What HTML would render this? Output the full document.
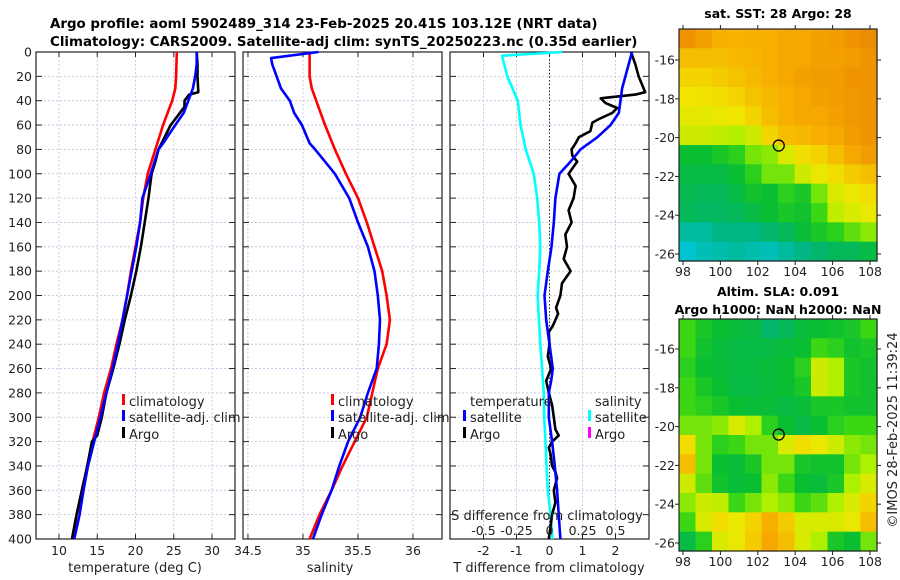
<!DOCTYPE html>
<html><head><meta charset="utf-8">
<style>
html,body{margin:0;padding:0;background:#fff;}
svg{display:block;font-family:"DejaVu Sans","Liberation Sans",sans-serif;}
</style></head>
<body>
<svg id="chart" width="900" height="580" viewBox="0 0 900 580" xmlns="http://www.w3.org/2000/svg">
<text x="50" y="28" font-size="13.4" font-weight="bold">Argo profile: aoml 5902489_314 23-Feb-2025 20.41S 103.12E (NRT data)</text>
<text x="50" y="46" font-size="13.4" font-weight="bold">Climatology: CARS2009. Satellite-adj clim: synTS_20250223.nc (0.35d earlier)</text>
<text x="778" y="18" font-size="12.5" font-weight="bold" text-anchor="middle">sat. SST: 28 Argo: 28</text>
<text x="778" y="296" font-size="12.5" font-weight="bold" text-anchor="middle">Altim. SLA: 0.091</text>
<text x="778" y="314" font-size="12.5" font-weight="bold" text-anchor="middle">Argo h1000: NaN h2000: NaN</text>
<text transform="translate(897,430) rotate(-90)" font-size="13" text-anchor="middle" fill="#222">©IMOS 28-Feb-2025 11:39:24</text>
<g id="layer"></g>
</svg>
<script>
// ---------- data ----------
const depthTicks = [0,20,40,60,80,100,120,140,160,180,200,220,240,260,280,300,320,340,360,380,400];
const tempTicks = [10,15,20,25,30];
const salTicks = [34.5,35,35.5,36];
const tdiffTicks = [-2,-1,0,1,2];
const sdiffTicks = [-0.5,-0.25,0,0.25,0.5];
const sdiffLabels = ["-0.5","-0.25","0","0.25","0.5"];

const climDepth = [0,20,30,40,60,80,100,120,140,160,180,200,220,240,260,280,300,320,340,360,380,400];
const climTemp  = [25.4,25.3,25.2,24.8,23.6,22.6,21.6,21.0,20.6,20.0,19.4,18.9,18.3,17.5,16.8,15.9,15.2,14.4,13.7,13.0,12.3,11.7];
const climSal   = [35.06,35.06,35.08,35.12,35.2,35.29,35.39,35.5,35.58,35.65,35.72,35.76,35.79,35.76,35.68,35.63,35.58,35.47,35.36,35.26,35.15,35.06];

const satDepth = [0,5,10,20,30,40,50,60,75,80,90,100,120,140,160,180,200,220,240,260,280,300,320,340,360,380,400];
const satTemp  = [28.0,28.0,28.0,27.8,27.5,26.9,26.3,25.2,23.6,23.0,22.5,22.0,20.9,20.6,20.1,19.5,18.9,18.3,17.7,17.0,16.2,15.4,14.6,13.8,13.2,12.7,12.0];
const satSal   = [35.14,34.71,34.72,34.76,34.8,34.88,34.92,34.99,35.06,35.11,35.2,35.29,35.42,35.5,35.59,35.65,35.68,35.7,35.69,35.67,35.59,35.52,35.41,35.33,35.26,35.17,35.09];

const argoDepth = [0,10,20,33,35,40,45,55,60,70,80,90,100,110,120,140,160,180,200,220,240,260,280,300,315,320,340,360,380,400];
const argoTemp  = [28.0,28.1,28.1,28.2,27.0,26.4,26.4,25.2,24.6,23.8,23.0,22.6,22.1,21.9,21.7,21.2,20.7,20.1,19.4,18.6,17.9,17.1,16.2,15.6,15.0,14.3,13.7,13.0,12.3,11.7];

const tdiffSatDepth = [0,10,20,30,40,50,60,70,80,90,100,120,140,160,180,200,220,240,260,270,280,300,320,340,360,380,400];
const tdiffSat = [2.5,2.4,2.3,2.2,2.15,2.1,1.85,1.45,0.94,0.64,0.3,0.18,0.13,0.06,-0.05,-0.15,-0.1,0.0,0.1,0.05,-0.02,-0.02,0.08,0.16,0.23,0.28,0.33];

const tdiffArgoDepth = [0,10,20,33,35,38,42,46,50,55,58,65,70,75,80,85,90,100,110,120,130,140,150,160,170,180,190,200,210,215,225,230,240,250,260,270,280,290,300,310,315,320,325,330,340,345,350,360,370,380,390,400];
const tdiffArgo = [2.47,2.6,2.7,2.9,2.6,1.55,1.7,2.05,1.9,1.5,1.3,1.24,0.89,0.79,0.67,0.69,0.84,0.58,0.79,0.73,0.58,0.67,0.48,0.53,0.43,0.64,0.38,0.33,0.2,0.26,0.1,-0.02,0.0,-0.05,0.05,-0.1,-0.02,0.08,0.13,0.18,0.28,0.08,-0.02,0.03,0.08,0.18,0.23,0.13,0.18,0.08,0.03,-0.02];

const sdiffSatDepth = [0,3,20,40,60,80,100,120,140,160,180,200,240,280,300,320,340,360,380,400];
const sdiffSat = [0.096,-0.36,-0.32,-0.24,-0.22,-0.18,-0.12,-0.093,-0.078,-0.07,-0.078,-0.09,-0.07,-0.043,-0.04,-0.03,-0.023,-0.013,0.008,0.023];

const lonTicks = [98,100,102,104,106,108];
const latTicks = [-16,-18,-20,-22,-24,-26];
const argoLon = 103.12, argoLat = -20.41;

const sstGrid = [
[0.95,0.92,0.88,0.87,0.88,0.88,0.9,0.9,0.92,0.93,0.95,0.97],
[0.85,0.85,0.85,0.86,0.87,0.88,0.9,0.9,0.92,0.92,0.93,0.95],
[0.8,0.8,0.82,0.84,0.86,0.88,0.9,0.92,0.93,0.93,0.95,0.95],
[0.76,0.77,0.78,0.8,0.84,0.86,0.88,0.9,0.92,0.93,0.94,0.95],
[0.74,0.74,0.75,0.76,0.8,0.85,0.88,0.9,0.9,0.92,0.94,0.95],
[0.7,0.7,0.68,0.66,0.7,0.8,0.85,0.86,0.88,0.9,0.93,0.95],
[0.4,0.4,0.45,0.5,0.6,0.62,0.72,0.78,0.8,0.85,0.9,0.93],
[0.35,0.35,0.35,0.4,0.5,0.6,0.6,0.7,0.75,0.78,0.82,0.85],
[0.32,0.3,0.3,0.35,0.42,0.4,0.5,0.45,0.6,0.72,0.75,0.78],
[0.3,0.28,0.28,0.3,0.35,0.4,0.45,0.42,0.55,0.68,0.72,0.75],
[0.15,0.15,0.2,0.2,0.2,0.25,0.3,0.38,0.45,0.5,0.58,0.62],
[0.05,0.1,0.12,0.15,0.12,0.1,0.15,0.2,0.25,0.3,0.3,0.35]];

const slaGrid = [
[0.55,0.45,0.4,0.38,0.35,0.25,0.3,0.38,0.4,0.42,0.45,0.55],
[0.55,0.42,0.38,0.35,0.35,0.35,0.38,0.4,0.55,0.5,0.42,0.45],
[0.5,0.4,0.38,0.36,0.36,0.38,0.4,0.5,0.7,0.65,0.45,0.42],
[0.55,0.45,0.4,0.35,0.35,0.38,0.4,0.45,0.7,0.65,0.45,0.42],
[0.55,0.5,0.45,0.4,0.38,0.38,0.36,0.38,0.45,0.45,0.42,0.42],
[0.6,0.6,0.62,0.72,0.65,0.5,0.4,0.35,0.4,0.5,0.55,0.55],
[0.78,0.6,0.5,0.55,0.6,0.6,0.72,0.78,0.75,0.7,0.62,0.6],
[0.85,0.6,0.4,0.38,0.45,0.6,0.6,0.45,0.42,0.42,0.6,0.65],
[0.7,0.58,0.42,0.38,0.4,0.62,0.55,0.4,0.38,0.45,0.65,0.72],
[0.62,0.7,0.68,0.55,0.6,0.65,0.62,0.55,0.58,0.65,0.72,0.8],
[0.55,0.72,0.78,0.75,0.8,0.88,0.82,0.72,0.72,0.72,0.75,0.85],
[0.35,0.5,0.72,0.75,0.82,0.9,0.85,0.72,0.65,0.45,0.4,0.6]];

// ---------- helpers ----------
const NS = "http://www.w3.org/2000/svg";
const layer = document.getElementById('layer');
function mk(tag, attrs, parent){
  const e = document.createElementNS(NS, tag);
  for (const k in attrs) e.setAttribute(k, attrs[k]);
  (parent||layer).appendChild(e);
  return e;
}
const PT = 52, PB = 539;
const yD = d => PT + (d/400)*(PB-PT);
function linScale(d0,d1,r0,r1){ return v => r0 + (v-d0)/(d1-d0)*(r1-r0); }

const panels = [
  {name:'temperature', x0:36, x1:235, sx: linScale(7,33,36,235)},
  {name:'salinity', x0:243, x1:442, sx: linScale(34.455,36.264,243,442)},
  {name:'difference', x0:450, x1:649, sx: linScale(-3.015,3.015,450,649)}
];
const sxS = linScale(-0.75375,0.75375,450,649);

function drawPanelFrame(p, xticks, sx, showLeftLabels){
  const g = mk('g', {});
  
  
  depthTicks.forEach(d => {
    const l = mk('line', {x1:p.x0, x2:p.x1, y1:yD(d), y2:yD(d), stroke:'#b8c0e0', 'stroke-width':0.8, 'stroke-dasharray':'2,2'}, g);
    
    
  });
  xticks.forEach(t => {
    const x = sx(t);
    const l = mk('line', {x1:x, x2:x, y1:PT, y2:PB, stroke:'#c8c0d8', 'stroke-width':0.8, 'stroke-dasharray':'2,2'}, g);
    
    
    mk('line', {x1:x, x2:x, y1:PB, y2:PB-5, stroke:'#222'}, g);
    mk('line', {x1:x, x2:x, y1:PT, y2:PT+5, stroke:'#222'}, g);
  });
  depthTicks.forEach(d => {
    mk('line', {x1:p.x0, x2:p.x0+6, y1:yD(d), y2:yD(d), stroke:'#222'}, g);
    mk('line', {x1:p.x1, x2:p.x1-6, y1:yD(d), y2:yD(d), stroke:'#222'}, g);
    if (showLeftLabels){
      const t = mk('text', {x:p.x0-4, y:yD(d)+4.5, 'font-size':12.5, 'text-anchor':'end', fill:'#222'}, g);
      t.textContent = d;
      
      
    }
  });
  const r = mk('rect', {x:p.x0, y:PT, width:p.x1-p.x0, height:PB-PT, fill:'none', stroke:'#222', 'stroke-width':1.2}, g);
  
  
  return g;
}
function line(depths, vals, sx, color, name, w){
  const pts = depths.map((d,i) => sx(vals[i]).toFixed(1)+','+yD(d).toFixed(1)).join(' ');
  const pl = mk('polyline', {points:pts, fill:'none', stroke:color, 'stroke-width':w||2.6, 'stroke-linejoin':'round'});
  
  
  return pl;
}
function txt(x,y,s,opts,name){
  const t = mk('text', Object.assign({x:x, y:y, 'font-size':13, fill:'#222'}, opts||{}));
  t.textContent = s;
  
  
  return t;
}
function legendEntry(x,y,color,label,name){
  const r = mk('rect', {x:x, y:y-7, width:3, height:11, fill:color});
  
  
  txt(x+7, y+5, label, {'font-size':13}, name);
}

// ---------- panel 1: temperature ----------
const p1 = panels[0];
drawPanelFrame(p1, tempTicks, p1.sx, true);
tempTicks.forEach(t => txt(p1.sx(t), 555, t, {'text-anchor':'middle','font-size':12.5}, 'temperature-tick-label'));
txt(135, 572, 'temperature (deg C)', {'text-anchor':'middle'}, 'temperature-axis-title');
line(climDepth, climTemp, p1.sx, '#ff0000', 'climatology-temperature-line');
line(argoDepth, argoTemp, p1.sx, '#000000', 'argo-temperature-line');
line(satDepth, satTemp, p1.sx, '#0000ff', 'satellite-temperature-line');
legendEntry(122, 401, '#ff0000', 'climatology', 'legend-climatology');
legendEntry(122, 417, '#0000ff', 'satellite-adj. clim', 'legend-satellite-adj');
legendEntry(122, 434, '#000000', 'Argo', 'legend-argo');

// ---------- panel 2: salinity ----------
const p2 = panels[1];
drawPanelFrame(p2, salTicks, p2.sx, false);
salTicks.forEach(t => txt(p2.sx(t), 555, t, {'text-anchor':'middle','font-size':12.5}, 'salinity-tick-label'));
txt(330, 572, 'salinity', {'text-anchor':'middle'}, 'salinity-axis-title');
line(climDepth, climSal, p2.sx, '#ff0000', 'climatology-salinity-line');
line(satDepth, satSal, p2.sx, '#0000ff', 'satellite-salinity-line');
legendEntry(331, 401, '#ff0000', 'climatology', 'legend-climatology-2');
legendEntry(331, 417, '#0000ff', 'satellite-adj. clim', 'legend-satellite-adj-2');
legendEntry(331, 434, '#000000', 'Argo', 'legend-argo-2');

// ---------- panel 3: differences ----------
const p3 = panels[2];
drawPanelFrame(p3, tdiffTicks, p3.sx, false);
const zl = mk('line', {x1:p3.sx(0), x2:p3.sx(0), y1:PT, y2:PB, stroke:'#333', 'stroke-width':1, 'stroke-dasharray':'1.5,2'});


tdiffTicks.forEach(t => txt(p3.sx(t), 555, t, {'text-anchor':'middle','font-size':12.5}, 'tdiff-tick-label'));
txt(549, 572, 'T difference from climatology', {'text-anchor':'middle'}, 'tdiff-axis-title');
line(sdiffSatDepth, sdiffSat, sxS, '#00ffff', 'salinity-satellite-diff-line');
line(tdiffArgoDepth, tdiffArgo, p3.sx, '#000000', 'temperature-argo-diff-line');
line(tdiffSatDepth, tdiffSat, p3.sx, '#0000ff', 'temperature-satellite-diff-line');
txt(547, 520, 'S difference from climatology', {'text-anchor':'middle'}, 'sdiff-axis-title');
sdiffTicks.forEach((t,i) => txt(sxS(t), 535, sdiffLabels[i], {'text-anchor':'middle','font-size':12.5}, 'sdiff-tick-label'));
txt(470, 406, 'temperature', {}, 'legend-temperature-heading');
legendEntry(463, 417, '#0000ff', 'satellite', 'legend-t-satellite');
legendEntry(463, 434, '#000000', 'Argo', 'legend-t-argo');
txt(595, 406, 'salinity', {}, 'legend-salinity-heading');
legendEntry(588, 417, '#00ffff', 'satellite', 'legend-s-satellite');
legendEntry(588, 434, '#ff00ff', 'Argo', 'legend-s-argo');

// ---------- maps ----------
const cmapStops = [[0,[0,200,235]],[0.22,[0,180,120]],[0.4,[10,190,50]],[0.55,[60,215,20]],[0.65,[175,240,0]],[0.76,[240,230,0]],[0.88,[248,176,0]],[1,[232,128,0]]];
function cmap(v){
  v = Math.max(0, Math.min(1, v));
  for (let i=1;i<cmapStops.length;i++){
    if (v <= cmapStops[i][0]){
      const [a,ca] = cmapStops[i-1], [b,cb] = cmapStops[i];
      const f = (v-a)/(b-a);
      return 'rgb(' + ca.map((c,j)=>Math.round(c+(cb[j]-c)*f)).join(',') + ')';
    }
  }
  return 'rgb(232,128,0)';
}
function drawMap(grid, top, bottom, lat16y, lat26y, name){
  const x0 = 679, x1 = 877;
  const sxLon = linScale(98,108,683,870);
  const syLat = linScale(-16,-26,lat16y,lat26y);
  const g = mk('g', {});
  
  
  const rows = grid.length, cols = grid[0].length;
  const cw = (x1-x0)/cols, ch = (bottom-top)/rows;
  grid.forEach((row, r) => row.forEach((v, c) => {
    const cell = mk('rect', {x:(x0+c*cw).toFixed(2), y:(top+r*ch).toFixed(2), width:(cw+0.6).toFixed(2), height:(ch+0.6).toFixed(2), fill:cmap(v)}, g);
    
    
  }));
  const fr = mk('rect', {x:x0, y:top, width:x1-x0, height:bottom-top, fill:'none', stroke:'#222', 'stroke-width':1.2}, g);
  
  
  lonTicks.forEach(t => {
    const x = sxLon(t);
    mk('line', {x1:x, x2:x, y1:bottom, y2:bottom+4, stroke:'#222'}, g);
    mk('line', {x1:x, x2:x, y1:top, y2:top-4, stroke:'#222'}, g);
    const tl = mk('text', {x:x, y:bottom+15, 'font-size':12.5, 'text-anchor':'middle', fill:'#222'}, g);
    tl.textContent = t;
    
    
  });
  latTicks.forEach(t => {
    const y = syLat(t);
    mk('line', {x1:x0, x2:x0-4, y1:y, y2:y, stroke:'#222'}, g);
    mk('line', {x1:x1, x2:x1+4, y1:y, y2:y, stroke:'#222'}, g);
    const tl = mk('text', {x:x0-4, y:y+4.5, 'font-size':12.5, 'text-anchor':'end', fill:'#222'}, g);
    tl.textContent = t;
    
    
  });
  const m = mk('circle', {cx:sxLon(argoLon), cy:syLat(argoLat), r:5.5, fill:'none', stroke:'#000', 'stroke-width':1.3}, g);
  
  
}
drawMap(sstGrid, 29, 261, 60, 254, 'sst-map');
drawMap(slaGrid, 319, 551, 349, 543, 'sla-map');
</script>
</body></html>
